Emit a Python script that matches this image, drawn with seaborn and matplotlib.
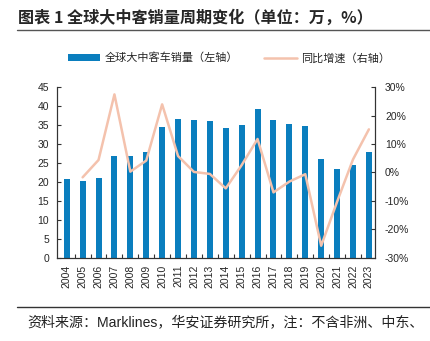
import matplotlib
matplotlib.use("Agg")
import matplotlib.pyplot as plt
import seaborn as sns
from matplotlib.lines import Line2D
from matplotlib.patches import Patch
from matplotlib.ticker import FuncFormatter, FixedLocator

# Annual sales of large/medium buses worldwide (10k units) and YoY growth (%)
years = list(range(2004, 2024))
sales = [20.7, 20.2, 21.0, 26.8, 26.8, 27.9, 34.5, 36.5, 36.4, 36.2,
         34.2, 35.0, 39.2, 36.4, 35.2, 34.9, 26.0, 23.4, 24.4, 28.0]
growth_years = years[1:]
growth = [-1.7, 4.4, 27.5, 0.3, 4.2, 24.0, 5.8, 0.2, -0.5, -5.6,
          2.6, 11.8, -7.0, -3.2, -0.6, -25.8, -10.3, 4.6, 15.2]
left_ticks = list(range(0, 50, 5))
right_ticks = [-30, -20, -10, 0, 10, 20, 30]

title = "图表 1 全球大中客销量周期变化（单位：万，%）"
bar_label = "全球大中客车销量（左轴）"
line_label = "同比增速（右轴）"
source = "资料来源：Marklines，华安证券研究所，注：不含非洲、中东、"

BAR_COLOR = "#0a7ebe"
LINE_COLOR = "#f4c2ad"
SPINE_COLOR = "#333333"

sns.set_style("ticks")
plt.rcParams["font.family"] = ["Liberation Sans", "Noto Sans CJK SC", "DejaVu Sans"]

fig = plt.figure(figsize=(4.3, 3.41), dpi=100)
ax = fig.add_axes([0.1337, 0.2443, 0.739, 0.4997])

sns.barplot(x=years, y=sales, native_scale=True, width=0.38,
            color=BAR_COLOR, saturation=1, edgecolor="none", ax=ax)

ax2 = ax.twinx()
sns.lineplot(x=growth_years, y=growth, ax=ax2, color=LINE_COLOR,
             linewidth=1.8, legend=False)

# x axis: year labels, ticks between categories
ax.set_xlim(2003.42, 2023.4)
ax.set_xticks(years)
ax.set_xticklabels([str(y) for y in years], rotation=90, fontsize=7.5)
ax.xaxis.set_minor_locator(FixedLocator([y + 0.5 for y in years[:-1]]))
ax.tick_params(axis="x", which="major", length=0, pad=5)
ax.tick_params(axis="x", which="minor", direction="in", length=3,
               width=0.8, color=SPINE_COLOR)

# left axis
ax.set_ylim(0, 45)
ax.set_yticks(left_ticks)
ax.tick_params(axis="y", direction="in", length=3, width=0.8,
               color=SPINE_COLOR, labelsize=7.5, pad=6)

# right axis
ax2.set_ylim(-30, 30)
ax2.set_yticks(right_ticks)
ax2.yaxis.set_major_formatter(FuncFormatter(lambda v, _: f"{v:.0f}%"))
ax2.tick_params(axis="y", direction="in", length=3, width=0.8,
                color=SPINE_COLOR, labelsize=7.5, pad=7)

for a in (ax, ax2):
    a.set_xlabel("")
    a.set_ylabel("")
    a.spines["top"].set_visible(False)
    for side in ("left", "right", "bottom"):
        a.spines[side].set_color(SPINE_COLOR)
        a.spines[side].set_linewidth(0.8)

# legend above the plot
handles = [Patch(facecolor=BAR_COLOR, edgecolor="none"),
           Line2D([], [], color=LINE_COLOR, linewidth=1.8)]
fig.legend(handles, [bar_label, line_label], loc="center",
           bbox_to_anchor=(0.532, 0.83), ncol=2, frameon=False,
           fontsize=8, handlelength=2.9, handleheight=0.5,
           handletextpad=0.4, columnspacing=2.4)

# title, rules and source note
fig.text(0.042, 0.948, title, fontsize=11.6, fontweight="bold", va="center",
         family=["Noto Sans CJK SC", "DejaVu Sans"])
fig.add_artist(Line2D([17 / 430, 1], [1 - 30.3 / 341] * 2,
                      transform=fig.transFigure, color="#555555", lw=1))
fig.add_artist(Line2D([17 / 430, 1], [1 - 307.3 / 341] * 2,
                      transform=fig.transFigure, color="#333333", lw=1))
fig.text(27 / 430, 1 - 323 / 341, source, fontsize=10.1, va="center",
         color="#222222")

fig.savefig("out.png", dpi=100)
